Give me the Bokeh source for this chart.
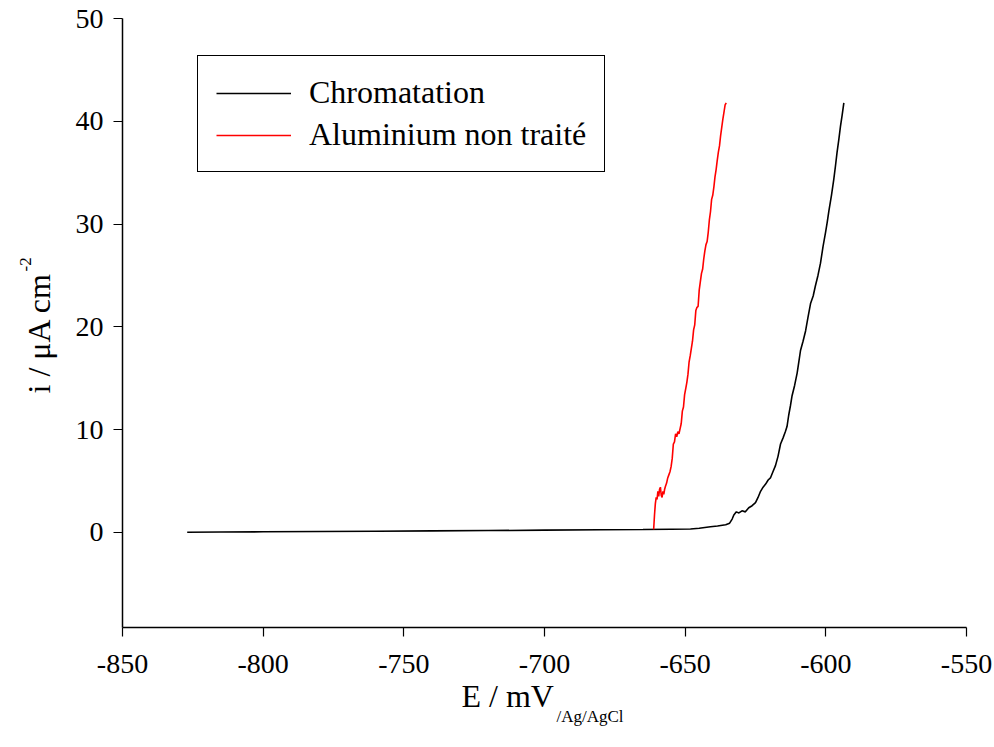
import math
from bokeh.plotting import figure
from bokeh.models import (Range1d, FixedTicker, Label, Legend, LegendItem,
                          PrintfTickFormatter)
from bokeh.embed import file_html
from bokeh.resources import INLINE

# ---------------- data ----------------
x_ticks = [-850, -800, -750, -700, -650, -600, -550]
y_ticks = [0, 10, 20, 30, 40, 50]

series_names = ["Chromatation", "Aluminium non traité"]

chrom_E = [-827.0, -815.0, -800.0, -780.0, -760.0, -740.0, -720.0, -700.0, -680.0, -665.0,
           -655.0, -648.1, -645.0, -641.0, -638.5, -635.6, -634.2, -633.3, -632.7, -631.8,
           -630.9, -629.8, -628.6, -627.4, -626.2, -625.0, -624.1, -623.2, -622.3, -621.4,
           -620.5, -619.7, -618.8, -617.9, -617.0, -616.1, -615.2, -614.4, -613.8, -613.2,
           -612.6, -612.0, -611.1, -610.2, -609.6, -609.0, -608.1, -607.2, -606.3, -605.4,
           -604.5, -603.7, -602.8, -601.9, -601.0, -600.1, -599.5, -598.9, -598.0, -597.2,
           -596.6, -596.0, -595.4, -594.8, -594.2, -593.6]
chrom_i = [0.02, 0.04, 0.06, 0.09, 0.12, 0.15, 0.18, 0.22, 0.26, 0.28,
           0.31, 0.33, 0.40, 0.55, 0.62, 0.75, 0.90, 1.3, 1.7, 2.0,
           1.9, 2.1, 2.0, 2.4, 2.6, 2.9, 3.4, 4.0, 4.4, 4.7,
           5.1, 5.3, 5.9, 6.5, 7.4, 8.6, 9.2, 9.8, 10.3, 11.4,
           12.3, 13.3, 14.3, 15.5, 16.6, 17.7, 18.6, 19.6, 21.0, 22.3,
           23.0, 24.0, 25.0, 26.2, 27.8, 29.2, 30.2, 31.3, 32.8, 34.3,
           35.6, 37.0, 38.2, 39.5, 40.6, 41.8]

alu_E = [-661.2, -660.9, -660.6, -660.3, -660.0, -659.7, -659.4, -659.1, -658.8, -658.5,
         -658.2, -657.9, -657.6, -657.3, -657.0, -656.6, -656.2, -655.8, -655.4, -655.0,
         -654.6, -654.2, -653.8, -653.4, -653.0, -652.6, -652.2, -651.8, -651.4, -651.0,
         -650.6, -650.2, -649.8, -649.4, -649.0, -648.6, -648.2, -647.8, -647.4, -647.0,
         -646.6, -646.2, -645.8, -645.4, -645.0, -644.6, -644.2, -643.8, -643.4, -643.0,
         -642.6, -642.2, -641.8, -641.4, -641.0, -640.6, -640.2, -639.8, -639.4, -639.0,
         -638.6, -638.2, -637.8, -637.4, -637.0, -636.6, -636.2, -635.8, -635.4]
alu_i = [0.3, 1.7, 2.8, 3.4, 3.2, 4.0, 3.5, 4.2, 4.4, 3.6,
         3.4, 4.0, 3.7, 4.2, 4.5, 4.8, 5.3, 5.6, 5.9, 6.4,
         7.2, 8.6, 8.8, 9.6, 9.3, 9.8, 9.6, 10.1, 10.6, 11.8,
         12.2, 13.4, 14.0, 14.6, 15.4, 16.6, 17.2, 17.9, 18.6, 19.7,
         20.2, 21.6, 21.9, 22.0, 23.6, 24.4, 25.2, 25.6, 26.6, 27.4,
         28.0, 28.3, 29.2, 30.4, 31.2, 32.4, 32.8, 33.6, 34.6, 35.3,
         36.2, 37.0, 37.6, 38.6, 39.4, 40.2, 40.9, 41.6, 41.8]

assert len(chrom_E) == len(chrom_i)
assert len(alu_E) == len(alu_i)

# ---------------- layout ----------------
W, H = 994, 747
L, R, T, B = 122, 966, 18, 627
X0, X1 = -850, -550
Y0, Y1 = -9.25, 50

FONT = "Liberation Serif"

p = figure(width=W, height=H, output_backend="svg", toolbar_location=None,
           x_range=Range1d(X0, X1), y_range=Range1d(Y0, Y1),
           min_border_left=L, min_border_right=W - R, min_border_top=T,
           min_border_bottom=H - B)
p.outline_line_color = None
p.xgrid.visible = False
p.ygrid.visible = False
p.background_fill_color = "white"
p.border_fill_color = "white"

r1 = p.line(chrom_E, chrom_i, line_color="black", line_width=1.6)
r2 = p.line(alu_E, alu_i, line_color="#ff0000", line_width=1.6)

for ax in (p.xaxis[0], p.yaxis[0]):
    ax.axis_line_color = "black"
    ax.axis_line_width = 1.5
    ax.major_tick_line_color = "black"
    ax.major_tick_line_width = 1.2
    ax.major_tick_out = 9
    ax.major_tick_in = 0
    ax.minor_tick_line_color = None
    ax.major_label_text_font = FONT
    ax.major_label_text_font_size = "28px"
    ax.major_label_text_color = "black"
    ax.formatter = PrintfTickFormatter(format="%d")

p.xaxis.ticker = FixedTicker(ticks=x_ticks)
p.yaxis.ticker = FixedTicker(ticks=y_ticks)
p.xaxis.major_label_standoff = 18
p.yaxis.major_label_standoff = 10

# axis titles with sub/superscripts: labels in the side panels, canvas pixels
def canvas_label(x, y, text, size, angle=0.0):
    return Label(x=x, y=y, x_units="canvas", y_units="canvas", text=text,
                 text_font=FONT, text_font_size=size, text_color="black",
                 angle=angle, text_align="left", text_baseline="alphabetic")

p.add_layout(canvas_label(461, 695, "E / mV", "32px"), "below")
p.add_layout(canvas_label(556, 716, "/Ag/AgCl", "17px"), "below")
p.add_layout(canvas_label(38, 393, "i / μA cm", "32px", math.pi / 2), "left")
p.add_layout(canvas_label(25, 271, "-2", "17px", math.pi / 2), "left")

legend = Legend(items=[LegendItem(label=series_names[0], renderers=[r1]),
                       LegendItem(label=series_names[1], renderers=[r2])],
                location=(197 - L, B - 172), margin=0, padding=18, spacing=5,
                glyph_width=75, glyph_height=20, label_standoff=18,
                label_text_font=FONT, label_text_font_size="32px",
                label_text_color="black",
                border_line_color="black", border_line_width=1, border_line_alpha=1.0,
                background_fill_color="white", background_fill_alpha=1.0)
p.add_layout(legend)

open("out.html", "w").write(file_html(p, INLINE))
